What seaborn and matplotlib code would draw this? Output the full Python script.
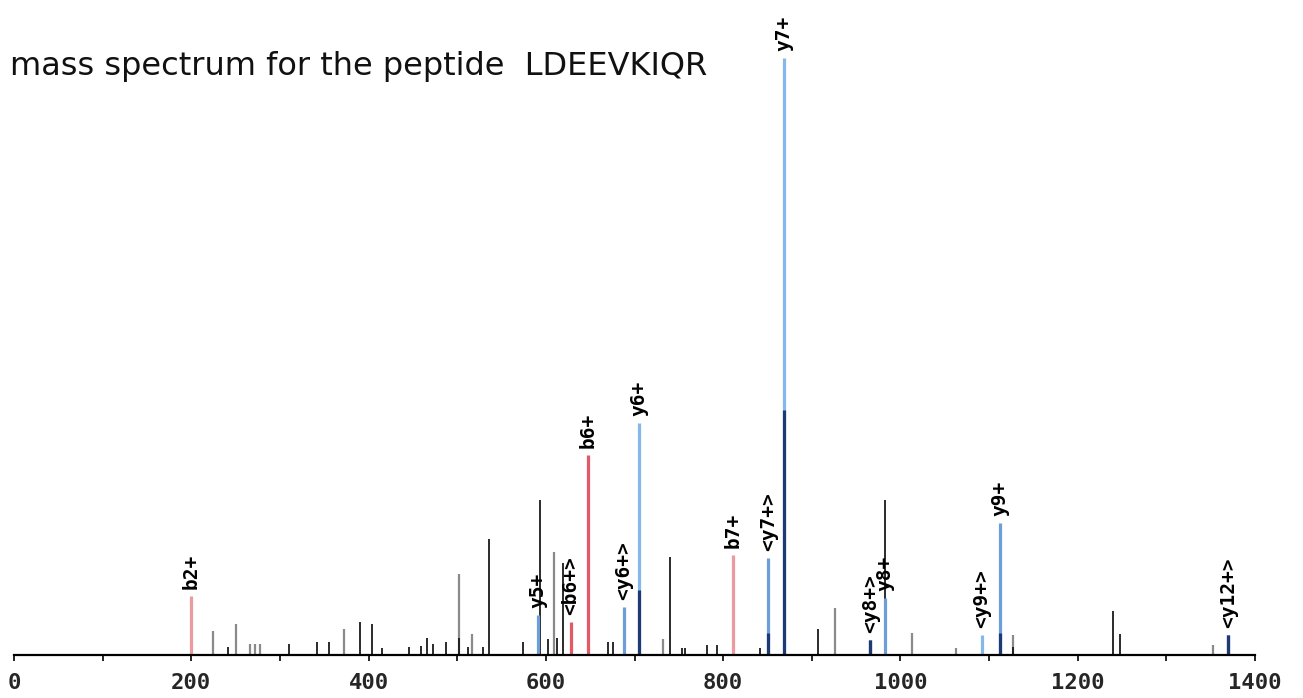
import numpy as np
import matplotlib
matplotlib.use("Agg")
import matplotlib.pyplot as plt
import seaborn as sns

# ---- data (m/z, relative intensity %) ----
# unmatched peaks, dark
black_mz = [200, 241, 310, 342, 355, 390, 404, 415, 446, 459, 466, 473, 487,
            502, 512, 529, 536, 574, 593, 602, 613, 619, 648, 670, 676, 740,
            754, 757, 782, 793, 842, 907, 983, 1127, 1240, 1248]
black_int = [0.8, 1.3, 1.8, 2.2, 2.2, 5.5, 5.2, 1.2, 1.3, 1.5, 2.8, 1.8, 2.2,
             2.8, 1.3, 1.3, 19.4, 2.2, 26.0, 2.7, 2.8, 15.4, 1.8, 2.2, 2.2, 16.4,
             1.2, 1.2, 1.7, 1.7, 1.2, 4.4, 26.0, 1.3, 7.4, 3.5]

# unmatched peaks, grey
gray_mz = [224, 250, 266, 272, 277, 372, 502, 517, 609, 732, 926, 1013, 1063, 1127, 1353]
gray_int = [4.0, 5.2, 1.8, 1.8, 1.8, 4.4, 13.6, 3.5, 17.3, 2.7, 7.9, 3.7, 1.2, 3.4, 1.7]

# matched fragment ions
ion_labels = ["b2+", "y5+", "<b6+>", "b6+", "<y6+>", "y6+", "b7+", "<y7+>",
              "y7+", "<y8+>", "y8+", "<y9+>", "y9+", "<y12+>"]
ion_mz = [200, 591, 628, 648, 688, 705, 811, 851, 869, 966, 983, 1092, 1112, 1370]
ion_int = [9.9, 6.7, 5.5, 33.5, 8.0, 38.9, 16.8, 16.2, 100.0, 2.5, 9.5, 3.4, 22.1, 3.4]
ion_kind = ["b_light", "y", "b", "b", "y", "y_light", "b_light", "y",
            "y_light", "y_dark", "y", "y_light", "y", "y_dark"]

# darker overlay at the foot of some y ions
navy_mz = [705, 851, 869, 966, 1112, 1370]
navy_int = [10.9, 3.7, 41.0, 2.5, 3.7, 3.4]

kind_colors = {
    "b": "#e25a66",
    "b_light": "#eb9aa0",
    "y": "#6c9fd8",
    "y_light": "#85b8ea",
    "y_dark": "#3d5f9c",
}

sns.set_theme(style="white")
plt.rcParams["font.family"] = ["DejaVu Sans"]

fig = plt.figure(figsize=(13.03, 6.98), dpi=100)
ax = fig.add_axes([14 / 1303, 43 / 698, 1241 / 1303, 597 / 698])

ax.vlines(gray_mz, 0, gray_int, color="#8a8a8a", lw=1.6)
ax.vlines(black_mz, 0, black_int, color="#1a1a1a", lw=1.3)
ax.vlines(ion_mz, 0, ion_int, color=[kind_colors[k] for k in ion_kind], lw=2.3)
ax.vlines(navy_mz, 0, navy_int, color="#1d3a72", lw=2.3)

for lab, mz, h in zip(ion_labels, ion_mz, ion_int):
    ax.annotate(lab, (mz, h), xytext=(0, 5), textcoords="offset points",
                rotation=90, ha="center", va="bottom", fontsize=14,
                fontweight="bold", family="DejaVu Sans Mono", color="black",
                annotation_clip=False)

ax.set_xlim(0, 1400)
ax.set_ylim(0, 100)
ax.set_xticks(np.arange(0, 1401, 200))
ax.set_xticks(np.arange(0, 1401, 100), minor=True)
ax.set_xticklabels([str(v) for v in range(0, 1401, 200)], fontsize=16,
                   fontweight="bold", family="DejaVu Sans Mono")
ax.tick_params(axis="x", which="both", direction="out", length=4, width=1.2,
               bottom=True, color="black", pad=9)
ax.set_yticks([])
sns.despine(ax=ax, left=True, top=True, right=True)
ax.spines["bottom"].set_color("black")
ax.spines["bottom"].set_linewidth(1.6)

fig.text(10 / 1303, 1 - 66 / 698, "mass spectrum for the peptide  LDEEVKIQR",
         fontsize=23, family="DejaVu Sans", color="#111111", va="center", ha="left")

fig.savefig("out.png", dpi=100)
